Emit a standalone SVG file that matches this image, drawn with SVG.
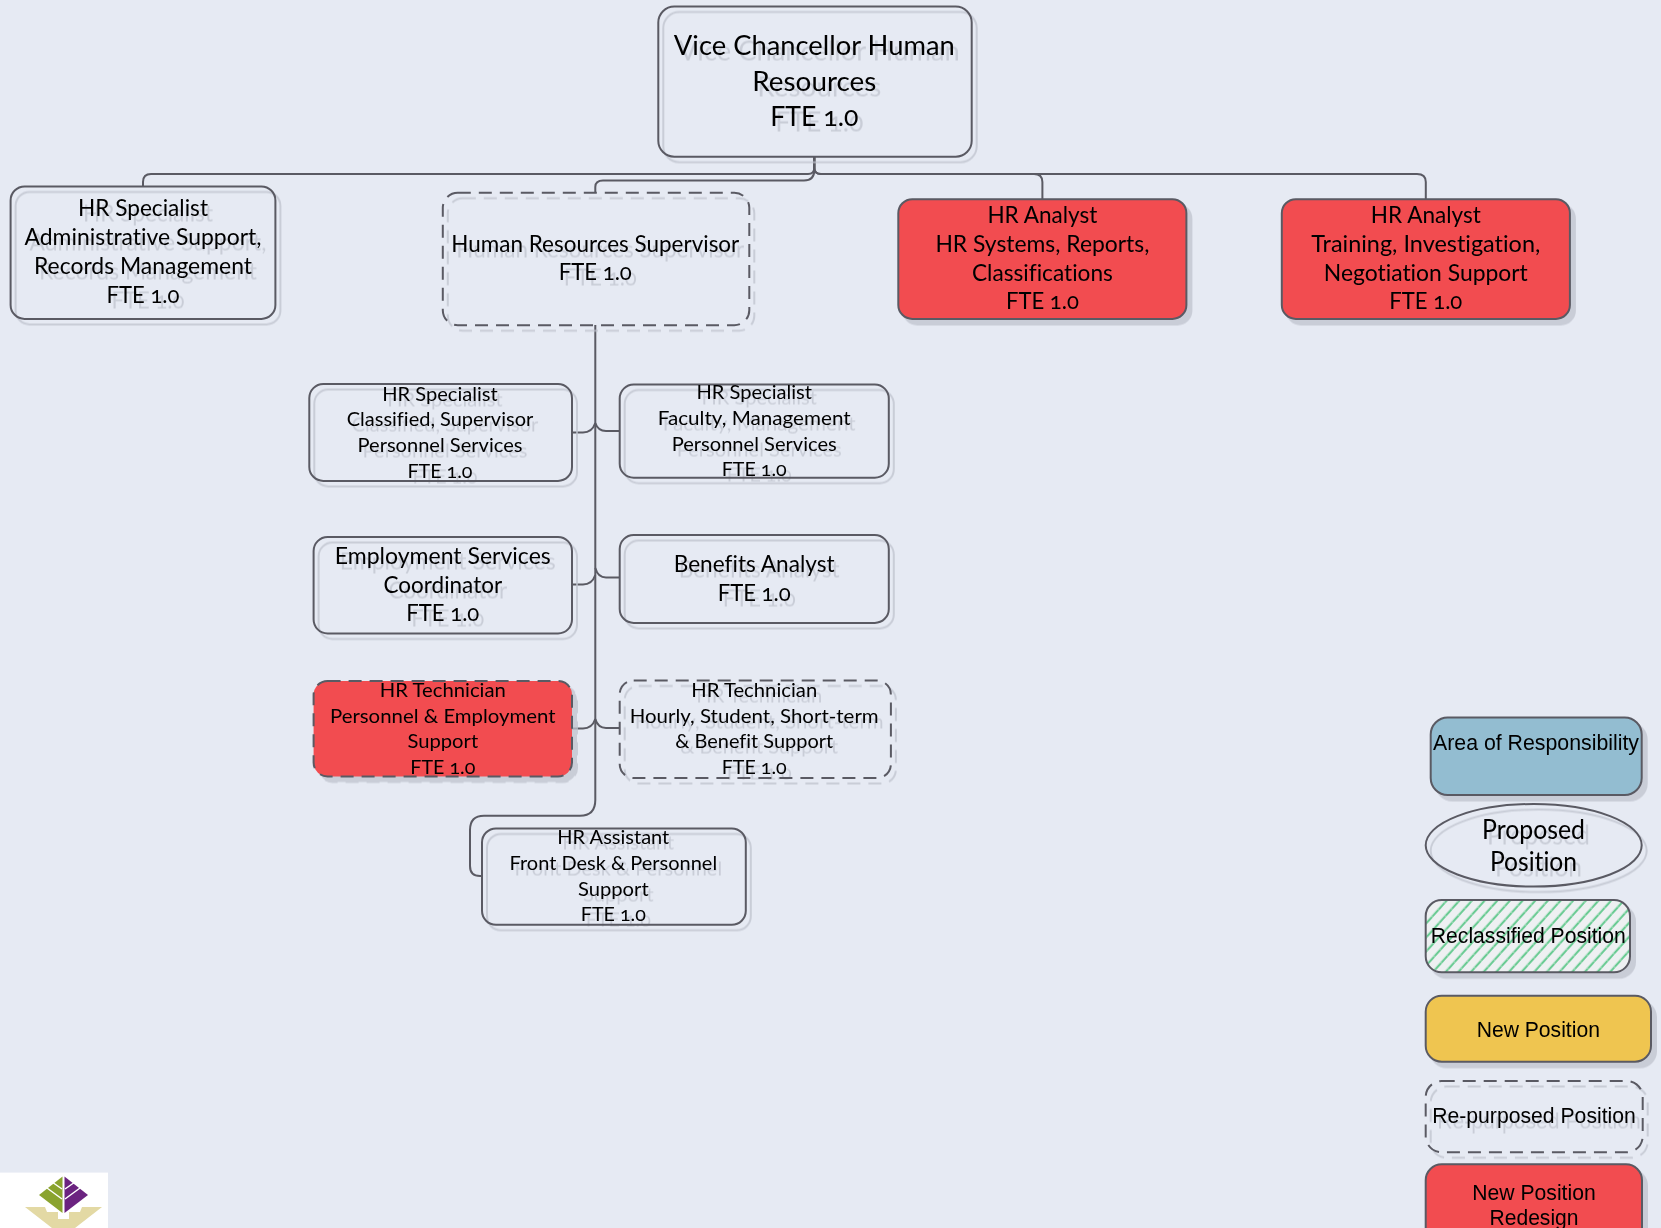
<svg xmlns="http://www.w3.org/2000/svg" width="1661" height="1228" viewBox="0 0 1661 1228">
<style>
.bg{fill:#e6eaf3}
.box{fill:none;stroke:#5a5a63;stroke-width:2}
.dash{stroke-dasharray:13 8}
.red{fill:#f24c50}
.blue{fill:#93bdd1}
.yellow{fill:#efc550}
.hatch{fill:url(#hatch)}
.n{filter:url(#ghost)}
.c{fill:none;stroke:#5a5a63;stroke-width:2}
text{fill:#000;text-anchor:middle;font-family:"Lato","Open Sans",sans-serif;font-variant-numeric:oldstyle-nums;font-feature-settings:"onum";font-variant-ligatures:none}
.s28{font-size:27px}
.s22{font-size:23px}
.s19{font-size:20px}
.leg{font-family:"Liberation Sans",Arial,sans-serif;font-size:21.3px}
</style>
<defs>
<filter id="ghost" x="-10%" y="-15%" width="125%" height="135%" color-interpolation-filters="sRGB">
<feDropShadow dx="5" dy="5.5" stdDeviation="0.5" flood-color="#bfc3cd" flood-opacity="0.75"/>
</filter>
<pattern id="hatch" patternUnits="userSpaceOnUse" width="9.4" height="9.4" patternTransform="rotate(-48)">
<rect width="9.4" height="9.4" fill="#eef0f2"/>
<rect x="0" y="3.5" width="9.4" height="2" fill="#62c98d"/>
<rect x="4" y="3.5" width="1" height="2" fill="#a9dfbe"/>
</pattern>
</defs>
<rect class="bg" width="1661" height="1228"/>
<g id="connectors">
<path class="c" d="M814.3 157V168Q814.3 174 808 174H151Q143 174 143 182V186.4"/>
<path class="c" d="M814.3 157V170Q814.3 180.5 804 180.5H603Q595.3 180.5 595.3 187V193"/>
<path class="c" d="M814.3 157V168Q814.3 174 821 174H1034Q1042.4 174 1042.4 182V199"/>
<path class="c" d="M814.3 157V168Q814.3 174 821 174H1417Q1425.8 174 1425.8 182V199"/>
<path class="c" d="M595.3 325V800Q595.3 815.7 580 815.7H484Q470 815.7 470 830V866Q470 876 480 876H482"/>
<path class="c" d="M572 432.5H583Q592 432.5 595.3 423"/>
<path class="c" d="M619.7 431H606Q598 431 595.3 423"/>
<path class="c" d="M572 584.5H583Q592 584.5 595.3 575"/>
<path class="c" d="M619.7 577.5H606Q598 577.5 595.3 568"/>
<path class="c" d="M572 728.5H583Q592 728.5 595.3 719"/>
<path class="c" d="M619.7 728H606Q598 728 595.3 719"/>
</g>
<g id="n-vc" class="n s28">
<rect class="box" x="658.3" y="6.5" width="313.4" height="150.2" rx="16"/>
<text x="814.3" y="55" textLength="281" lengthAdjust="spacingAndGlyphs">Vice Chancellor Human</text>
<text x="814.3" y="90.7" textLength="124" lengthAdjust="spacingAndGlyphs">Resources</text>
<text x="814.3" y="125.7" textLength="88" lengthAdjust="spacingAndGlyphs">FTE 1.0</text>
</g>
<g id="n-admin" class="n s22">
<rect class="box" x="10.6" y="186.4" width="264.8" height="132.5" rx="14"/>
<text x="143" y="216" textLength="130" lengthAdjust="spacingAndGlyphs">HR Specialist</text>
<text x="143" y="245" textLength="237" lengthAdjust="spacingAndGlyphs">Administrative Support,</text>
<text x="143" y="274.3" textLength="218" lengthAdjust="spacingAndGlyphs">Records Management</text>
<text x="143" y="302.7" textLength="73" lengthAdjust="spacingAndGlyphs">FTE 1.0</text>
</g>
<g id="n-sup" class="n s22">
<rect class="box dash" x="442.8" y="192.8" width="306.5" height="132.4" rx="15"/>
<text x="595.3" y="252" textLength="288" lengthAdjust="spacingAndGlyphs">Human Resources Supervisor</text>
<text x="595.3" y="280.3" textLength="73" lengthAdjust="spacingAndGlyphs">FTE 1.0</text>
</g>
<g id="n-analyst1" class="n s22">
<rect class="box red" x="898.3" y="199.2" width="288.1" height="119.7" rx="14"/>
<text x="1042.4" y="223.4" textLength="110" lengthAdjust="spacingAndGlyphs">HR Analyst</text>
<text x="1042.4" y="252.4" textLength="214" lengthAdjust="spacingAndGlyphs">HR Systems, Reports,</text>
<text x="1042.4" y="281" textLength="141" lengthAdjust="spacingAndGlyphs">Classifications</text>
<text x="1042.4" y="309.3" textLength="73" lengthAdjust="spacingAndGlyphs">FTE 1.0</text>
</g>
<g id="n-analyst2" class="n s22">
<rect class="box red" x="1281.8" y="199.2" width="288.1" height="119.7" rx="14"/>
<text x="1425.8" y="223.4" textLength="110" lengthAdjust="spacingAndGlyphs">HR Analyst</text>
<text x="1425.8" y="252.4" textLength="229" lengthAdjust="spacingAndGlyphs">Training, Investigation,</text>
<text x="1425.8" y="281" textLength="204" lengthAdjust="spacingAndGlyphs">Negotiation Support</text>
<text x="1425.8" y="309.3" textLength="73" lengthAdjust="spacingAndGlyphs">FTE 1.0</text>
</g>
<g id="n-classified" class="n s19">
<rect class="box" x="309.3" y="384" width="262.7" height="96.9" rx="14"/>
<text x="440" y="400.7" textLength="115.5" lengthAdjust="spacingAndGlyphs">HR Specialist</text>
<text x="440" y="426" textLength="186.5" lengthAdjust="spacingAndGlyphs">Classified, Supervisor</text>
<text x="440" y="452" textLength="165" lengthAdjust="spacingAndGlyphs">Personnel Services</text>
<text x="440" y="478" textLength="65" lengthAdjust="spacingAndGlyphs">FTE 1.0</text>
</g>
<g id="n-faculty" class="n s19">
<rect class="box" x="619.7" y="384.5" width="269.1" height="93.2" rx="14"/>
<text x="754.2" y="399.3" textLength="115.5" lengthAdjust="spacingAndGlyphs">HR Specialist</text>
<text x="754.2" y="424.5" textLength="193" lengthAdjust="spacingAndGlyphs">Faculty, Management</text>
<text x="754.2" y="450.5" textLength="165" lengthAdjust="spacingAndGlyphs">Personnel Services</text>
<text x="754.2" y="476" textLength="65" lengthAdjust="spacingAndGlyphs">FTE 1.0</text>
</g>
<g id="n-employment" class="n s22">
<rect class="box" x="313.6" y="537" width="258.4" height="96.5" rx="14"/>
<text x="442.8" y="564.4" textLength="216" lengthAdjust="spacingAndGlyphs">Employment Services</text>
<text x="442.8" y="593" textLength="118.6" lengthAdjust="spacingAndGlyphs">Coordinator</text>
<text x="442.8" y="621" textLength="73" lengthAdjust="spacingAndGlyphs">FTE 1.0</text>
</g>
<g id="n-benefits" class="n s22">
<rect class="box" x="619.7" y="535" width="269.1" height="87.9" rx="14"/>
<text x="754.2" y="571.9" textLength="161" lengthAdjust="spacingAndGlyphs">Benefits Analyst</text>
<text x="754.2" y="600.5" textLength="73" lengthAdjust="spacingAndGlyphs">FTE 1.0</text>
</g>
<g id="n-tech1" class="n s19">
<rect class="box red dash" x="313.6" y="681" width="258.4" height="95.5" rx="14"/>
<text x="442.8" y="696.7" textLength="126" lengthAdjust="spacingAndGlyphs">HR Technician</text>
<text x="442.8" y="723.3" textLength="225.6" lengthAdjust="spacingAndGlyphs">Personnel &amp; Employment</text>
<text x="442.8" y="748.3" textLength="70.7" lengthAdjust="spacingAndGlyphs">Support</text>
<text x="442.8" y="774.3" textLength="65" lengthAdjust="spacingAndGlyphs">FTE 1.0</text>
</g>
<g id="n-tech2" class="n s19">
<rect class="box dash" x="619.7" y="680.5" width="271.2" height="97.6" rx="14"/>
<text x="754.2" y="696.7" textLength="126" lengthAdjust="spacingAndGlyphs">HR Technician</text>
<text x="754.2" y="723.3" textLength="249" lengthAdjust="spacingAndGlyphs">Hourly, Student, Short-term</text>
<text x="754.2" y="748.3" textLength="158" lengthAdjust="spacingAndGlyphs">&amp; Benefit Support</text>
<text x="754.2" y="774.3" textLength="65" lengthAdjust="spacingAndGlyphs">FTE 1.0</text>
</g>
<g id="n-assistant" class="n s19">
<rect class="box" x="482" y="828.4" width="263.8" height="96.4" rx="14"/>
<text x="613.3" y="844" textLength="112" lengthAdjust="spacingAndGlyphs">HR Assistant</text>
<text x="613.3" y="870" textLength="207.6" lengthAdjust="spacingAndGlyphs">Front Desk &amp; Personnel</text>
<text x="613.3" y="896" textLength="70.7" lengthAdjust="spacingAndGlyphs">Support</text>
<text x="613.3" y="921" textLength="65" lengthAdjust="spacingAndGlyphs">FTE 1.0</text>
</g>
<g id="leg-area" class="n">
<rect class="box blue" x="1430.7" y="717.5" width="211" height="77.5" rx="17"/>
<text class="leg" x="1536" y="750" textLength="206" lengthAdjust="spacingAndGlyphs">Area of Responsibility</text>
</g>
<g id="leg-proposed" class="n" style="font-size:26px">
<ellipse class="box" cx="1533.7" cy="845.3" rx="108" ry="41.3"/>
<text x="1533.5" y="838.5" textLength="103" lengthAdjust="spacingAndGlyphs">Proposed</text>
<text x="1533.5" y="870.5" textLength="87" lengthAdjust="spacingAndGlyphs">Position</text>
</g>
<g id="leg-reclass" class="n">
<rect class="box hatch" x="1425.7" y="900" width="204.3" height="72.3" rx="16"/>
<text class="leg" x="1528.3" y="942.7" textLength="195" lengthAdjust="spacingAndGlyphs">Reclassified Position</text>
</g>
<g id="leg-new" class="n">
<rect class="box yellow" x="1425.7" y="995.7" width="225.3" height="66" rx="16"/>
<text class="leg" x="1538.3" y="1036.7" textLength="123.3" lengthAdjust="spacingAndGlyphs">New Position</text>
</g>
<g id="leg-repurposed" class="n">
<rect class="box dash" x="1425.7" y="1081" width="217" height="71.3" rx="16"/>
<text class="leg" x="1534" y="1122.7" textLength="203.7" lengthAdjust="spacingAndGlyphs">Re-purposed Position</text>
</g>
<g id="leg-redesign" class="n">
<rect class="box red" x="1425.7" y="1164.3" width="216.3" height="90" rx="16"/>
<text class="leg" x="1534" y="1200" textLength="123.3" lengthAdjust="spacingAndGlyphs">New Position</text>
<text class="leg" x="1534" y="1225" textLength="89" lengthAdjust="spacingAndGlyphs">Redesign</text>
</g>
<g id="logo">
<rect x="0" y="1172.6" width="108" height="55.4" fill="#fff"/>
<polygon points="25,1207 45,1207 47,1212 58,1212 58,1219 69,1219 69,1212 80,1212 82,1207 102,1207 75,1228 52,1228" fill="#e3d9a4"/>
<polygon points="62.5,1176.5 39,1195 62.5,1213" fill="#8aa32e"/>
<polygon points="64.5,1176.5 88,1195 64.5,1213" fill="#6b2380"/>
<path d="M47 1188L62 1199M52 1182L62 1189M80 1188L65 1199M75 1182L65 1189" stroke="#fff" stroke-width="1.5" fill="none"/>
</g>
</svg>
